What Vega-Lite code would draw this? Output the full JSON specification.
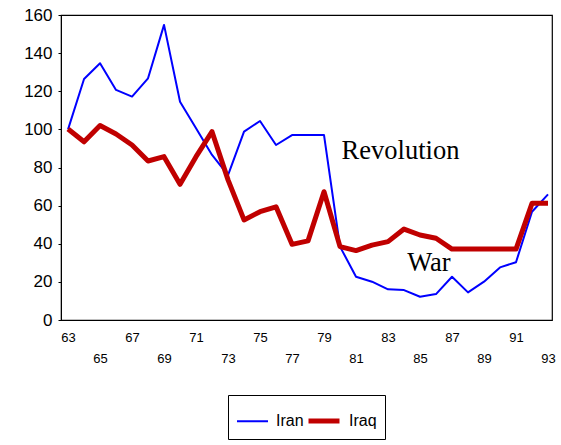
{
  "$schema": "https://vega.github.io/schema/vega-lite/v6.json",
  "width": 491,
  "height": 305,
  "autosize": {"type": "none"},
  "padding": {"left": 61, "top": 15, "right": 9, "bottom": 125},
  "background": "white",
  "config": {
    "view": {"stroke": "#000", "strokeWidth": 1.2},
    "font": "Liberation Sans",
    "axis": {"labelOverlap": false, "labelFlush": false, "grid": false, "labelColor": "#000", "title": null},
    "legend": {
      "orient": "none",
      "legendX": 167,
      "legendY": 380,
      "direction": "horizontal",
      "symbolType": "stroke",
      "symbolSize": 961,
      "labelFontSize": 16,
      "labelColor": "#000",
      "labelOffset": 7,
      "columnPadding": -6,
      "padding": 8,
      "strokeColor": "#000"
    }
  },
  "datasets": {
    "series": [
      {"year": 63, "country": "Iran", "value": 100},
      {"year": 64, "country": "Iran", "value": 126.4},
      {"year": 65, "country": "Iran", "value": 134.7},
      {"year": 66, "country": "Iran", "value": 120.7},
      {"year": 67, "country": "Iran", "value": 117.2},
      {"year": 68, "country": "Iran", "value": 126.8},
      {"year": 69, "country": "Iran", "value": 154.8},
      {"year": 70, "country": "Iran", "value": 114.5},
      {"year": 71, "country": "Iran", "value": 100.6},
      {"year": 72, "country": "Iran", "value": 86.6},
      {"year": 73, "country": "Iran", "value": 76},
      {"year": 74, "country": "Iran", "value": 98.8},
      {"year": 75, "country": "Iran", "value": 104.4},
      {"year": 76, "country": "Iran", "value": 91.8},
      {"year": 77, "country": "Iran", "value": 97},
      {"year": 78, "country": "Iran", "value": 97},
      {"year": 79, "country": "Iran", "value": 97},
      {"year": 80, "country": "Iran", "value": 38.5},
      {"year": 81, "country": "Iran", "value": 22.7},
      {"year": 82, "country": "Iran", "value": 20.1},
      {"year": 83, "country": "Iran", "value": 16.1},
      {"year": 84, "country": "Iran", "value": 15.7},
      {"year": 85, "country": "Iran", "value": 12.2},
      {"year": 86, "country": "Iran", "value": 13.6},
      {"year": 87, "country": "Iran", "value": 22.7},
      {"year": 88, "country": "Iran", "value": 14.5},
      {"year": 89, "country": "Iran", "value": 20.1},
      {"year": 90, "country": "Iran", "value": 27.6},
      {"year": 91, "country": "Iran", "value": 30.3},
      {"year": 92, "country": "Iran", "value": 56.8},
      {"year": 93, "country": "Iran", "value": 65.9},
      {"year": 63, "country": "Iraq", "value": 100.2},
      {"year": 64, "country": "Iraq", "value": 93.5},
      {"year": 65, "country": "Iraq", "value": 102},
      {"year": 66, "country": "Iraq", "value": 97.6},
      {"year": 67, "country": "Iraq", "value": 91.8},
      {"year": 68, "country": "Iraq", "value": 83.4},
      {"year": 69, "country": "Iraq", "value": 85.7},
      {"year": 70, "country": "Iraq", "value": 71.2},
      {"year": 71, "country": "Iraq", "value": 85.7},
      {"year": 72, "country": "Iraq", "value": 98.8},
      {"year": 73, "country": "Iraq", "value": 73.5},
      {"year": 74, "country": "Iraq", "value": 52.5},
      {"year": 75, "country": "Iraq", "value": 56.8},
      {"year": 76, "country": "Iraq", "value": 59.4},
      {"year": 77, "country": "Iraq", "value": 39.7},
      {"year": 78, "country": "Iraq", "value": 41.5},
      {"year": 79, "country": "Iraq", "value": 67.3},
      {"year": 80, "country": "Iraq", "value": 38.5},
      {"year": 81, "country": "Iraq", "value": 36.4},
      {"year": 82, "country": "Iraq", "value": 39.3},
      {"year": 83, "country": "Iraq", "value": 41.1},
      {"year": 84, "country": "Iraq", "value": 47.7},
      {"year": 85, "country": "Iraq", "value": 44.6},
      {"year": 86, "country": "Iraq", "value": 42.9},
      {"year": 87, "country": "Iraq", "value": 37.2},
      {"year": 88, "country": "Iraq", "value": 37.2},
      {"year": 89, "country": "Iraq", "value": 37.2},
      {"year": 90, "country": "Iraq", "value": 37.2},
      {"year": 91, "country": "Iraq", "value": 37.2},
      {"year": 92, "country": "Iraq", "value": 61.2},
      {"year": 93, "country": "Iraq", "value": 61.2}
    ],
    "notes": [
      {"year": 80.1, "value": 84.5, "label": "Revolution"},
      {"year": 84.2, "value": 25.9, "label": "War"}
    ]
  },
  "encoding": {
    "x": {
      "field": "year", "type": "quantitative",
      "scale": {"domain": [62.56, 93.25], "nice": false, "zero": false},
      "axis": {
        "values": [63, 65, 67, 69, 71, 73, 75, 77, 79, 81, 83, 85, 87, 89, 91, 93],
        "ticks": false,
        "domain": false,
        "labelFontSize": 13,
        "labelPadding": {"condition": {"test": "datum.value % 4 == 1", "value": 32}, "value": 11}
      }
    },
    "y": {
      "field": "value", "type": "quantitative",
      "scale": {"domain": [0, 160], "nice": false},
      "axis": {
        "values": [0, 20, 40, 60, 80, 100, 120, 140, 160],
        "domainColor": "#000",
        "tickColor": "#000",
        "tickSize": 3,
        "labelFontSize": 17,
        "labelPadding": 6
      }
    }
  },
  "layer": [
    {
      "data": {"name": "series"},
      "mark": {"type": "line", "strokeJoin": "round", "strokeCap": "butt"},
      "encoding": {
        "color": {
          "field": "country", "type": "nominal", "title": null,
          "scale": {"domain": ["Iran", "Iraq"], "range": ["#0000FF", "#C00000"]}
        },
        "strokeWidth": {
          "field": "country", "type": "nominal", "title": null,
          "scale": {"domain": ["Iran", "Iraq"], "range": [2, 5]}
        }
      }
    },
    {
      "data": {"name": "notes"},
      "mark": {"type": "text", "align": "left", "baseline": "alphabetic", "font": "Liberation Serif", "fontSize": 26.5, "color": "#000"},
      "encoding": {
        "text": {"field": "label", "type": "nominal"}
      }
    }
  ]
}
